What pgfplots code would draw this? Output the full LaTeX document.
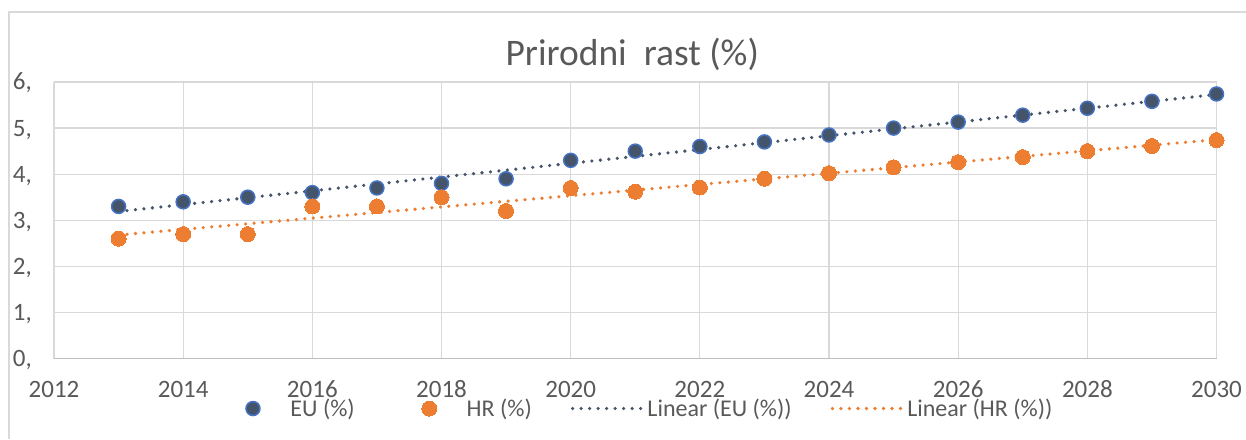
\documentclass[border=0pt]{standalone}
\usepackage{pgfplots}
\pgfplotsset{compat=1.18}
\usepackage{fontspec}
\setmainfont{Carlito}
\definecolor{euFill}{HTML}{44546A}
\definecolor{euEdge}{HTML}{4472C4}
\definecolor{hrc}{HTML}{ED7D31}
\definecolor{gridc}{HTML}{D9D9D9}
\definecolor{axc}{HTML}{BFBFBF}
\definecolor{txt}{HTML}{595959}
\pgfplotsset{
  markleg/.style={legend image code/.code={\path[draw=none,fill=none] (0pt,0pt) -- (71pt,0pt); \draw[##1, only marks] plot coordinates {(35.5pt,0pt)};}},
  lineleg/.style={legend image code/.code={\draw[##1] (0pt,0pt) -- (71pt,0pt);}},
}
\begin{document}
\begin{tikzpicture}
\useasboundingbox (0,0) rectangle (1246pt,439pt);
\draw[gridc, line width=1.2pt] (9pt,0) -- (9pt,427pt) -- (1246pt,427pt);
\begin{axis}[
  at={(54pt,80.5pt)}, anchor=south west,
  scale only axis, width=1162.5pt, height=276.5pt,
  xmin=2012, xmax=2030, ymin=0, ymax=6,
  xtick={2012,2014,2016,2018,2020,2022,2024,2026,2028,2030},
  xticklabels={2012,2014,2016,2018,2020,2022,2024,2026,2028,2030},
  ytick={0,1,2,3,4,5,6},
  yticklabels={{0,},{1,},{2,},{3,},{4,},{5,},{6,}},
  major tick length=0pt,
  grid=major,
  major grid style={draw=gridc, line width=1.3pt},
  axis line style={draw=none},
  clip=false,
  tick label style={font=\fontsize{25}{29}\selectfont, text=txt},
  xticklabel style={anchor=center, yshift=-31pt},
  yticklabel style={anchor=base east, inner sep=0pt, xshift=-22pt, yshift=-8pt},
  legend columns=4,
  legend style={at={(0.5006,-0.181)}, anchor=center, draw=none, fill=none,
    font=\fontsize{24}{28}\selectfont, text=txt,
    nodes={inner sep=2pt},
    /tikz/every even column/.append style={column sep=37pt}},
]
\draw[axc, line width=1.5pt] (rel axis cs:0,0) -- (rel axis cs:1,0);
\node[anchor=base, font=\fontsize{37.5}{42}\selectfont, text=txt] at (rel axis cs:0.4974,1) [yshift=16pt] {Prirodni\ \ rast (\%)};
\addplot[only marks, mark=*, mark size=7pt, mark options={fill=euFill, draw=euEdge, line width=1.5pt}, markleg]
coordinates {
(2013,3.3) (2014,3.4) (2015,3.5) (2016,3.6) (2017,3.7) (2018,3.8) (2019,3.9)
(2020,4.3) (2021,4.5) (2022,4.6) (2023,4.7) (2024,4.85) (2025,5.0) (2026,5.13)
(2027,5.28) (2028,5.43) (2029,5.58) (2030,5.74)
};
\addlegendentry{EU (\%)}
\addplot[only marks, mark=*, mark size=7.5pt, mark options={fill=hrc, draw=hrc, line width=0pt}, markleg]
coordinates {
(2013,2.6) (2014,2.7) (2015,2.7) (2016,3.3) (2017,3.3) (2018,3.5) (2019,3.2)
(2020,3.7) (2021,3.62) (2022,3.71) (2023,3.9) (2024,4.02) (2025,4.15) (2026,4.26)
(2027,4.37) (2028,4.5) (2029,4.61) (2030,4.74)
};
\addlegendentry{HR (\%)}
\addplot[no marks, draw=euFill, line width=3.6pt, line cap=round, dash pattern=on 0pt off 8.5pt, lineleg]
coordinates {(2013,3.19) (2030,5.73)};
\addlegendentry{Linear (EU (\%))}
\addplot[no marks, draw=hrc, line width=3.6pt, line cap=round, dash pattern=on 0pt off 8.5pt, lineleg]
coordinates {(2013,2.68) (2030,4.75)};
\addlegendentry{Linear (HR (\%))}
\end{axis}
\end{tikzpicture}
\end{document}
